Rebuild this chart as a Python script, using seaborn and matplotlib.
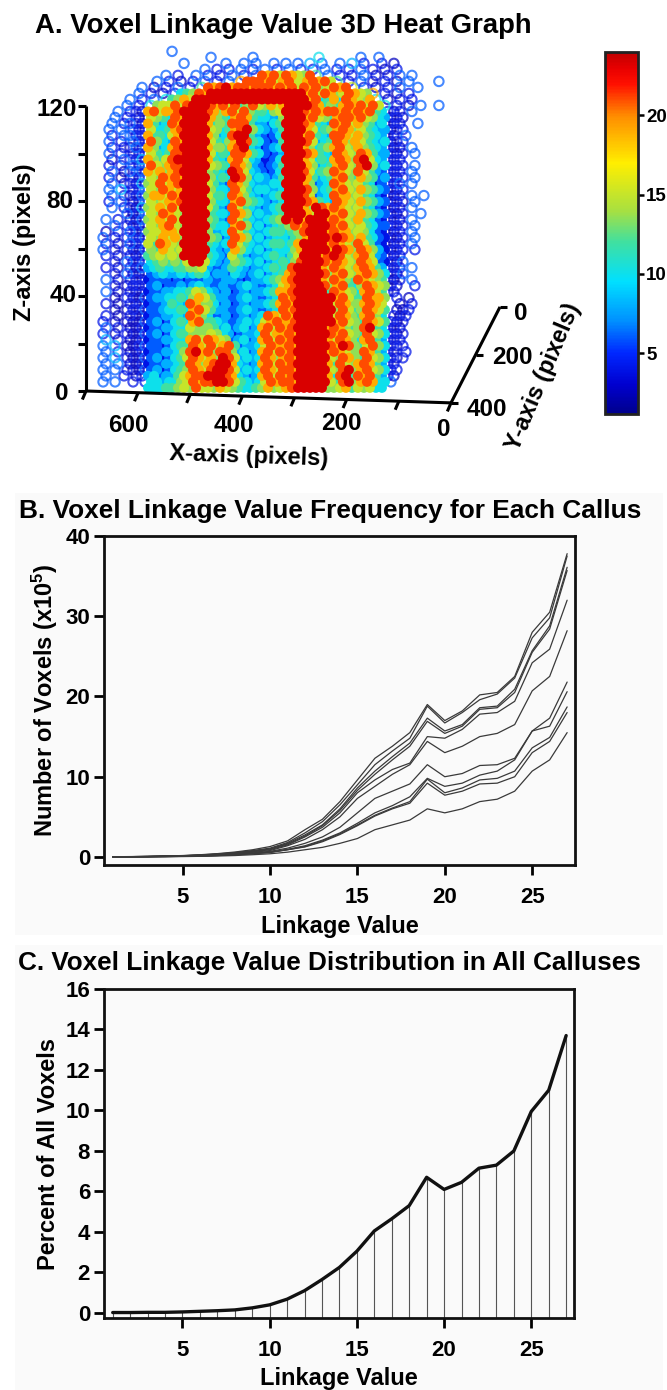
# -*- coding: utf-8 -*-
import numpy as np
import pandas as pd
import matplotlib
matplotlib.use("Agg")
import matplotlib.pyplot as plt
from matplotlib.colors import LinearSegmentedColormap, Normalize
from matplotlib.cm import ScalarMappable
from matplotlib.patches import Rectangle
import seaborn as sns

W, H = 667, 1390

# linkage values, one list per callus
linkage = list(range(1, 28))
callus_1 = [.03,.05,.08,.12,.18,.28,.42,.62,.9,1.3,2.0,3.4,4.7,6.9,9.6,12.3,13.8,15.5,19.0,17.0,18.2,20.2,20.5,22.5,28.0,30.5,37.8]
callus_2 = [.03,.04,.07,.11,.16,.25,.38,.55,.8,1.1,1.8,3.0,4.4,6.5,9.0,11.5,13.2,14.8,18.8,16.7,18.0,19.6,20.3,22.3,27.3,29.8,37.5]
callus_3 = [.03,.04,.06,.1,.15,.23,.35,.5,.72,1.0,1.7,2.75,4.0,6.0,8.6,10.7,12.5,14.2,17.3,15.7,16.5,18.6,18.8,20.9,25.7,28.8,36.1]
callus_4 = [.03,.04,.06,.1,.14,.22,.33,.48,.7,1.0,1.6,2.6,3.9,5.8,8.3,10.3,12.1,13.8,16.9,15.4,16.3,18.4,18.6,20.5,25.5,28.4,35.7]
callus_5 = [.02,.03,.05,.09,.13,.2,.3,.44,.65,.9,1.5,2.5,3.7,5.5,8.0,9.6,10.9,11.7,15.0,14.8,15.9,17.8,18.0,19.4,24.2,25.9,32.0]
callus_6 = [.02,.03,.05,.08,.12,.18,.27,.4,.58,.8,1.4,2.2,3.4,5.0,7.3,8.8,10.3,11.5,14.4,13.0,13.8,15.0,15.4,16.5,20.7,22.5,28.2]
callus_7 = [.02,.03,.04,.07,.1,.15,.22,.33,.5,.7,1.1,1.7,2.5,3.7,5.5,7.3,8.2,9.1,11.5,10.0,10.4,11.4,11.5,12.3,15.7,17.3,21.8]
callus_8 = [.02,.02,.04,.06,.09,.13,.2,.3,.43,.6,.95,1.4,2.1,3.0,4.2,5.5,6.4,7.5,9.8,8.8,9.2,10.2,10.7,12.1,15.7,16.3,20.6]
callus_9 = [.02,.02,.03,.05,.08,.12,.19,.28,.42,.6,.9,1.3,2.0,2.9,4.0,5.2,6.1,6.9,9.7,8.0,8.6,9.6,9.8,10.7,13.6,14.9,18.7]
callus_10 = [.01,.02,.03,.05,.08,.12,.18,.27,.4,.55,.9,1.25,1.9,2.8,3.9,5.1,6.0,6.7,9.2,7.7,8.2,9.1,9.2,10.0,13.0,14.4,18.0]
callus_11 = [.01,.01,.02,.03,.05,.08,.12,.18,.28,.4,.6,.9,1.2,1.7,2.3,3.4,4.0,4.6,6.0,5.5,6.0,6.9,7.2,8.2,10.7,12.1,15.5]
callus_all = [callus_1, callus_2, callus_3, callus_4, callus_5, callus_6,
              callus_7, callus_8, callus_9, callus_10, callus_11]

# panel C
percent_all = [.02,.02,.03,.03,.05,.08,.11,.15,.25,.4,.68,1.1,1.65,2.25,3.05,4.05,4.65,5.3,6.7,6.1,6.45,7.15,7.3,8.0,9.95,11.0,13.7]

# panel A colour scale
bar_values = [1.16, 3, 5, 7, 9.5, 12, 14, 17, 20, 22, 23, 24]
bar_colors = ["#00008c", "#0000d0", "#0028ff", "#0090ff", "#00e0ff", "#40e0a0",
              "#a8e040", "#ffee00", "#ff8c00", "#ff1000", "#e80000", "#c00000"]
bar_ticks = [5, 10, 15, 20]

# panel A voxels, read off the picture row by row from z = 143 downwards
# level of each voxel: 1 dark blue ... r red, blank = no voxel
level_values = dict(zip("123456789ar", [2.5, 4, 6, 8, 10, 12, 13.5, 15, 19, 21, 23.3]))
cap_rows = [
    "            3",
    "                  3      3          5      3  3",
    "              3      3  3 3  3 3 3 4 3  3 4 2  2 1",
    "                 3 2 2 3 2 3 2 3 2 2 3 2 2 3 2 1 2",
    "           3 2  3 2 2 3 2 3a9a8a987a6 3 2 2 3 1 2 3 3",
    "         3 2 1 2 3 2 3 9aaa9a89a889a9a86 2 3 2 2 1 3    3",
    "       3 1 2 3 2 6a9ar9aa9aaa9a9a8a9a78a9a8 2 1 2 3  3",
    "      3 2 1 2567a9rrrrrrrrrrrrrrrr9a8a978a9879 2 1 2 ",
    "     3 2 3 56798rrrrrrrrrrrrrrrrrrr9a5695a98795 1 2 2",
    "    3 2 5788a8arrra9a8a67a87989rrrra96769a9a8a85 2 1 3  3",
]
body_rows = [
    "   3 221|9a 89 9a rrrr a9 79 a8a 76 657 8 rrr a9 a9a a9a9 a9a 65|212 3",
    "  3 2 12|87 65 a9 rrrr 97 65 9a9 65 544 7 rrr 9a 876 9aa9 a87 54|121",
    "  3 2321|96 45 a9 rrrr 96 76 aaa 64 435 6 rrr a9 654 a9a8 976 45|212  3",
    " 3 3 221|85 56 9a rrrr 87 56 9ar 75 434 6 rrr 98 567 9a97 865 44|122",
    "  2 3322|96 65 89 rrrr 97 45 arr 64 323 5 rrr 9a 654 aa98 976 54|21 3",
    " 3 2 312|a7 54 a9 rrrr 86 57 9ra 65 323 6 rrr a8 456 a979 865 45|122",
    "  2 2132|97 45 9a rrrr 97 76 9ar 54 234 5 rrr 97 567 9a87 976 54|211 3",
    " 3 2 212|86 56 aa rrrr 85 65 aa9 65 323 4 rrr a9 654 a987 a96 44|212 3",
    "  1 3224|97 68 ar rrrr 96 54 9a8 54 223 5 rrr 98 565 9a97 ar8 54|122",
    " 2 2 312|a8 79 aa rrrr 87 65 a97 43 234 6 rrr 97 456 9a87 ar7 45|212 3",
    "  3 1323|98 97 9a rrrr 76 54 ra8 54 323 5 rrr a8 567 a987 a86 43|122 3",
    " 2 1 213|87 a9 a9 rrrr 75 65 ra7 45 434 6 rrr 96 456 9a76 976 34|212 3",
    "  3 2214|78 a8 9a rrrr 86 43 a97 54 445 5 rrr 97 345 a987 865 23|123 3",
    " 3 4 223|87 a9 89 rrrr 75 54 a86 45 544 5 rrr a7 456 9a87 976 43|212",
    "  3 2123|79 98 a9 rrrr 86 65 a97 54 345 6 rrr a8 345 a997 865 32|112 3 3",
    " 2 3 113|87 89 9a rrrr 75 54 9a7 65 434 5 rrr a9 654 a987 976 43|121 3",
    "  3 2214|78 98 a8 rrrr 86 43 a86 54 345 6 rrr 97 ra9 a987 865 32|212 3",
    "    3123|87 a9 87 rrrr 65 54 a97 45 445 6 rrr 98 rr9 9a87 976 43|112  3",
    " 3 2 113|78 98 a8 rrrr 76 43 a86 54 456 7 rar 9r rr9 a987 965 32|221 3",
    "  3 2213|87 9a 87 rrrr 65 54 9a7 45 345 6 7a9 ar rra 9a87 865 33|122 3",
    " 1 2 321|78 89 98 rrrr 74 45 a86 54 456 6 567 ar rr9 a997 875 32|212 3",
    "3 2 2213|87 98 97 rrrr 76 34 a97 45 345 5 467 9r rra ra97 965 32|112 3",
    " 2 1 322|86 a9 87 rrrr 65 45 a86 54 456 6 569 rr rr9 a987 a86 32|212 3",
    "3 2 2113|76 98 78 rrrr 54 34 975 45 345 5 579 rr rr9 ra97 a97 42|122 2",
    " 2 1 212|67 87 87 rrrr 65 43 864 34 456 5 468 rr r9a ra87 9a8 43|212",
    "  2 3213|56 76 76 8rr8 54 34 765 45 345 6 57a rr ra9 a987 a98 32|213",
    " 2 1 213|45 65 56 6778 43 34 654 34 456 5 6ar rr r98 a987 9a9 64|122 3",
    "  2 3112|34 54 45 4565 34 43 543 45 345 6 9ar rr ra7 9a87 9a9 75|213",
    " 3 1 221|23 33 23 2333 43 34 432 34 456 7 9ar rr r98 a976 a98 76|112 3",
    "  2 1222|34 23 34 3454 33 43 345 43 345 8 9ar rr ra7 9a65 7a9 87|21  2",
    " 3 1 211|23 34 45 5687 54 34 234 34 456 9 9ar rr rr6 a987 59a 86|12",
    "  1 2113|34 45 56 5798 64 43 345 43 345 a 9ar rr rrr 9a86 6a9 97| 2 1",
    " 2 1 212|23 34 65 4a97 75 34 234 34 456 9 a9r rr rrr 8a97 79a 98|  1 2",
    "  1 1213|33 45 56 59a8 64 43 345 43 345 a 9ar rr rrr 7a86 7a9 86| 112",
    " 2 1 211|23 34 45 4a97 53 34 234 34 5a9 8 a9r rr rrr 8a97 69a 75| 212",
    "2 1 1113|34 23 56 59a6 65 43 345 45 89a 9 9ar rr rrr 9a87 6a9 86|212",
    " 3 2 112|23 34 45 5877 76 45 345 34 9a8 a 9ar rr rr9 a976 7ar 65|121",
    "2 1 2113|34 23 56 6777 87 54 234 45 a89 9 a9r rr rra 9a87 6a8 75|212",
    " 4 2 112|23 34 45 59a8 a9 87 345 34 9a8 a 9ar rr rr9 8a97 59a 64|122",
    "3 4 1123|33 23 56 6a98 a8 9a 634 45 8a9 9 a9r rr rra 9ra7 68a 75|212",
    " 3 2 112|23 34 45 7ar9 a7 aa 745 34 9a8 a 9ar rr rr9 a987 7a9 64|12 2",
    "3 4 2113|34 23 56 8a98 97 ra 845 45 a97 9 a9r rr rr8 7a97 6a8 75|212",
    " 3 3 112|23 34 45 6a97 9a rr 954 34 9a8 a 9ar rr rr9 6a87 9a9 64|12",
    "3 3 2113|34 23 56 7a98 ar ra 845 45 a98 a a9r rr rr8 7ar7 9a8 75|22",
    " 3  2 12|45 34 46 89aa rr ra 954 34 9a8 a 9ar rr rr9 5ar6 a9a 64|21",
    "3 3  2 2|55 45 57 8a9a ar ra 865 45 8a9 a a9r rr rr8 6ar7 9a9 55|3",
    "        |55 56 67 87a8 87 98 765 56 797 8 9ar rr rr7 7896 878 55|",
]

sns.set_theme(style="white")
plt.rcParams["font.family"] = ["Liberation Sans", "DejaVu Sans"]
plt.rcParams["font.weight"] = "bold"
plt.rcParams["text.color"] = "black"
plt.rcParams["axes.labelcolor"] = "black"
plt.rcParams["xtick.color"] = "black"
plt.rcParams["ytick.color"] = "black"
plt.rcParams["mathtext.fontset"] = "custom"
plt.rcParams["mathtext.bf"] = "Liberation Sans:bold"
plt.rcParams["mathtext.rm"] = "Liberation Sans:bold"


def fx(px):
    return px / W


def fy(py):
    return 1 - py / H


def box(left, top, right, bottom):
    return [fx(left), fy(bottom), (right - left) / W, (bottom - top) / H]


fig = plt.figure(figsize=(W / 100, H / 100), dpi=100, facecolor="white")
fig.patches.append(Rectangle((fx(15), fy(935)), 648 / W, 442 / H, transform=fig.transFigure,
                             fc="#fafafa", ec="none", zorder=-5))
fig.patches.append(Rectangle((fx(15), fy(1390)), 648 / W, 445 / H, transform=fig.transFigure,
                             fc="#fafafa", ec="none", zorder=-5))

# ---------- A. 3D heat graph
heat_cmap = LinearSegmentedColormap.from_list(
    "voxel", [((v - bar_values[0]) / (bar_values[-1] - bar_values[0]), c) for v, c in zip(bar_values, bar_colors)])
heat_norm = Normalize(bar_values[0], bar_values[-1])

all_rows = list(cap_rows)
n_cap = len(cap_rows)
for row in body_rows:
    left, core, right = row.split("|")
    all_rows.append(left.ljust(8) + core.replace(" ", "") + right.ljust(6))
vox = []
for j, row in enumerate(all_rows):
    for i, ch in enumerate(row):
        if ch == " ":
            continue
        if j >= n_cap:
            inside = 8 <= i < 48
        else:
            # in the cap rows the body is the unbroken run of voxels
            inside = 0 < i < len(row) - 1 and row[i - 1] != " " and row[i + 1] != " "
        vox.append((673 - 11.5 * (i + 0.5 * (j % 2)), 143 - 2.53 * j, level_values[ch], inside))
df_vox = pd.DataFrame(vox, columns=["x", "z", "value", "inside"]).sort_values("value")

ax_a = fig.add_axes(box(86, 106, 451, 391))
ax_a.set_axis_off()
sns.scatterplot(data=df_vox[~df_vox["inside"]], x="x", y="z", hue="value", palette=heat_cmap, hue_norm=heat_norm,
                s=46, linewidth=1.5, legend=False, clip_on=False, ax=ax_a)
pts = ax_a.collections[-1]
pts.set_edgecolors(pts.get_facecolors())
pts.set_facecolors("none")
pts.set_alpha(0.72)
sns.scatterplot(data=df_vox[df_vox["inside"]], x="x", y="z", hue="value", palette=heat_cmap, hue_norm=heat_norm,
                s=52, linewidth=0, legend=False, clip_on=False, ax=ax_a)
ax_a.set_xlim(700, 0)
ax_a.set_ylim(0, 120)

line_kw = dict(color="black", lw=2.2, clip_on=False, solid_capstyle="butt")
ax_a.plot([700, 700], [0, 120], **line_kw)
for z in [0, 20, 40, 60, 80, 100, 120]:
    ax_a.plot([700, 716], [z, z], **line_kw)
ax_a.plot([700, 0], [0, -5], **line_kw)
for xv in range(0, 701, 100):
    z0 = -(700 - xv) * 5 / 700
    ax_a.plot([xv, xv + 7], [z0, z0 - 3.6], **line_kw)
ax_a.plot([0, -94], [-5, 35.4], **line_kw)
for yv, xv, z0 in [(0, -94, 35.4), (200, -47, 15.2), (400, 0, -5)]:
    ax_a.plot([xv, xv - 14], [z0, z0], **line_kw)

tick_a = dict(fontsize=17.5, fontweight="bold", ha="center", va="center", color="black")
for s, px, py in [("120", 57, 110), ("80", 60, 201), ("40", 63, 296), ("0", 62, 393),
                  ("600", 128, 425), ("400", 234, 425), ("200", 341, 424), ("0", 444, 429),
                  ("0", 521, 313), ("200", 512, 358), ("400", 487, 410)]:
    fig.text(fx(px), fy(py), s, **tick_a)
fig.text(fx(25), fy(242), "Z-axis (pixels)", fontsize=17, fontweight="bold", rotation=90, ha="center", va="center")
fig.text(fx(249), fy(456), "X-axis (pixels)", fontsize=17, fontweight="bold", rotation=-2, ha="center", va="center")
fig.text(fx(543), fy(377), "Y-axis (pixels)", fontsize=17, fontweight="bold", rotation=67, ha="center", va="center")
fig.text(fx(35), fy(26), "A. Voxel Linkage Value 3D Heat Graph", fontsize=19.8, fontweight="bold", ha="left", va="center")

cax = fig.add_axes(box(605, 52, 638, 414))
cb = fig.colorbar(ScalarMappable(norm=heat_norm, cmap=heat_cmap), cax=cax)
cb.set_ticks(bar_ticks)
cb.outline.set_linewidth(2)
cb.outline.set_edgecolor("#222222")
cax.tick_params(axis="y", direction="inout", length=8, width=1.8, labelsize=13.5, pad=2, color="black", right=True)
for t in cax.get_yticklabels():
    t.set_fontweight("bold")

# ---------- B. lines per callus
df_lines = pd.DataFrame(callus_all, columns=linkage)
df_lines["callus"] = range(len(callus_all))
df_lines = df_lines.melt(id_vars="callus", var_name="linkage", value_name="voxels")


def style_axes(ax, ylim, yticks):
    ax.set_facecolor("#fafafa")
    ax.set_xlim(0.5, 27.45)
    ax.set_ylim(*ylim)
    ax.set_xticks([5, 10, 15, 20, 25])
    ax.set_yticks(yticks)
    ax.tick_params(axis="both", direction="out", length=7, width=2, labelsize=16, pad=3, bottom=True, left=True, color="black", labelcolor="black")
    ax.tick_params(axis="x", pad=9)
    for t in ax.get_xticklabels() + ax.get_yticklabels():
        t.set_fontweight("bold")
    for sp in ax.spines.values():
        sp.set_linewidth(2)
        sp.set_color("#111111")


ax_b = fig.add_axes(box(104, 536, 575, 865))
sns.lineplot(data=df_lines, x="linkage", y="voxels", units="callus", estimator=None,
             color="#3a3a3a", lw=0.9, ax=ax_b)
style_axes(ax_b, (-1, 40), [0, 10, 20, 30, 40])
ax_b.set_xlabel("Linkage Value", fontsize=17, fontweight="bold", labelpad=5, color="black")
ax_b.set_ylabel(r"Number of Voxels (x10$\mathbf{^5}$)", fontsize=17, fontweight="bold", labelpad=4, color="black")
fig.text(fx(19), fy(511), "B. Voxel Linkage Value Frequency for Each Callus", fontsize=18.9, fontweight="bold", ha="left", va="center")

# ---------- C. distribution in all calluses
df_pct = pd.DataFrame({"linkage": linkage, "percent": percent_all})
ax_c = fig.add_axes(box(104, 989, 574, 1318))
ax_c.vlines(df_pct["linkage"], -0.25, df_pct["percent"], color="#555555", lw=0.8)
sns.lineplot(data=df_pct, x="linkage", y="percent", color="#111111", lw=2.4, ax=ax_c)
style_axes(ax_c, (-0.25, 16), [0, 2, 4, 6, 8, 10, 12, 14, 16])
ax_c.set_xlabel("Linkage Value", fontsize=17, fontweight="bold", labelpad=4, color="black")
ax_c.set_ylabel("Percent of All Voxels", fontsize=17, fontweight="bold", labelpad=4, color="black")
fig.text(fx(18), fy(963), "C. Voxel Linkage Value Distribution in All Calluses", fontsize=18.8, fontweight="bold", ha="left", va="center")

fig.savefig("out.png", dpi=100)
